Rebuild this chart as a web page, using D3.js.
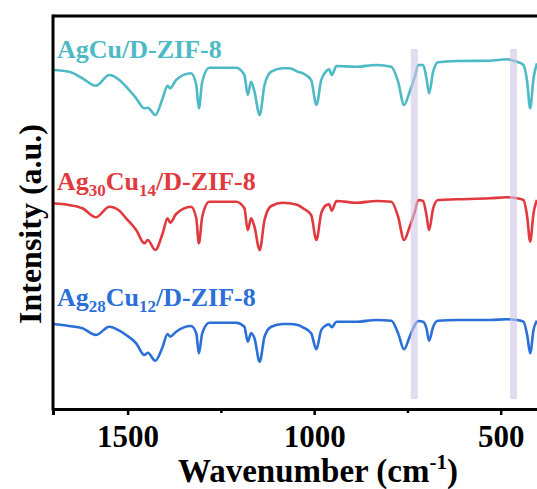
<!DOCTYPE html>
<html>
<head>
    <title>FTIR spectra</title>
    <script src="https://cdnjs.cloudflare.com/ajax/libs/d3/7.8.5/d3.min.js"></script>
    <style>
        body { margin: 0; background: #fff; }
        text { font-family: "Liberation Serif", "Times New Roman", serif; font-weight: bold; }
    </style>
</head>
<body>
    <div id="vis"></div>

    <script>
        // wavenumbers (cm-1), shared by all three traces
        var wavenumbers = [1700, 1657, 1621, 1585, 1549, 1522, 1504, 1477, 1455, 1446, 1426, 1406, 1393, 1386, 1370,
            1330, 1316, 1309, 1300, 1281, 1209, 1187, 1178, 1169, 1160, 1146, 1133, 1115, 1084, 1066, 1044, 1030,
            1008, 994, 981, 967, 960, 953, 940, 887, 833, 793, 775, 759, 744, 730, 721, 708, 699, 692, 681, 668,
            618, 529, 484, 457, 439, 429, 421, 412, 403];

        // intensities (a.u., already stacked)
        var agcu = [339, 337.3, 330.7, 323.3, 334, 329, 322.3, 310.7, 300.7, 301.3, 294, 310.7, 323.3, 320.7, 329,
            335.7, 324, 300.7, 327.3, 341.3, 341.3, 334, 314, 327.3, 317.3, 294, 324, 337.3, 340.7, 340.7, 337.3, 335.7,
            329, 304, 329, 338, 339.7, 334, 343, 342.3, 344, 342.3, 327.3, 304, 317.3, 332.3, 344, 344, 330.7, 315.7, 337.3, 346.7,
            348, 348.3, 349.7, 347.3, 344, 327.3, 300.7, 330.7, 345.7];

        var ag30cu14 = [205.7, 204, 200.7, 191.7, 202.3, 198.3, 190.7, 179, 165.7, 169, 159, 175.7, 190.7, 186.3, 195,
            202.3, 190.7, 165.7, 192.3, 207.3, 207.3, 200.7, 179, 190.7, 182.3, 159, 189, 203, 206.3, 205.7, 204, 200.7,
            194, 169, 195.7, 204, 204.7, 198.3, 208, 206.3, 208, 207.3, 192.3, 169, 182.3, 197.3, 209, 208, 194, 179, 200.7, 209,
            209.7, 210.7, 211.7, 210.7, 209, 192.3, 167.3, 195.7, 209];

        var ag28cu12 = [85, 83, 80.7, 74, 82.3, 78.3, 74, 65.7, 54, 56.3, 48.3, 62.3, 75, 72.3, 77.3,
            83, 75.7, 55.7, 75.7, 86.3, 86.3, 82.3, 67.3, 75.7, 70.7, 47.3, 72.3, 82.3, 85, 85, 84, 81.7,
            75.7, 59.7, 79, 84, 84.7, 81.7, 87.3, 87.3, 89, 88.3, 75.7, 59.7, 72.3, 84, 88, 87.3, 80.7, 68.3, 82.3, 88.3,
            89, 89, 89.7, 89, 87.3, 74, 55.7, 79, 88.3];

        var seriesNames = ["AgCu/D-ZIF-8", "Ag30Cu14/D-ZIF-8", "Ag28Cu12/D-ZIF-8"];
        var seriesColors = ["#4dbac6", "#e03a3e", "#2b6fd8"];
        var labelLevels = [351, 219, 103];

        // highlighted bands (cm-1)
        var bands = [[741, 722], [475, 456]];

        var xTicks = [1500, 1000, 500];
        var xMinorTicks = [1250, 750];

        var W = 537, H = 489;
        var mLeft = 53, mTop = 16, mRight = 538, mBottom = 409;

        var svg = d3.select("#vis").append("svg")
            .attr("width", W)
            .attr("height", H);

        var x = d3.scaleLinear().domain([1700, 400]).range([mLeft, mRight]);
        var y = d3.scaleLinear().domain([0, 393]).range([mBottom, mTop]);

        var line = d3.line()
            .x(function(d) { return x(d[0]); })
            .y(function(d) { return y(d[1]); })
            .curve(d3.curveMonotoneX);

        [agcu, ag30cu14, ag28cu12].forEach(function(vals, i) {
            svg.append("path")
                .datum(d3.zip(wavenumbers, vals))
                .attr("d", line)
                .attr("fill", "none")
                .attr("stroke", seriesColors[i])
                .attr("stroke-width", 2.6)
                .attr("stroke-linejoin", "round");
        });

        // bands sit on top, half transparent
        svg.selectAll(".band").data(bands).enter().append("rect")
            .attr("class", "band")
            .attr("x", function(d) { return x(d[0]); })
            .attr("width", function(d) { return x(d[1]) - x(d[0]); })
            .attr("y", y(360))
            .attr("height", y(10) - y(360))
            .attr("fill", "#cec5e6")
            .attr("opacity", 0.6);

        // labels with subscripts
        var labelParts = [
            [["AgCu/D-ZIF-8", false]],
            [["Ag", false], ["30", true], ["Cu", false], ["14", true], ["/D-ZIF-8", false]],
            [["Ag", false], ["28", true], ["Cu", false], ["12", true], ["/D-ZIF-8", false]]
        ];
        labelParts.forEach(function(parts, i) {
            var t = svg.append("text")
                .attr("x", 57)
                .attr("y", y(labelLevels[i]))
                .attr("fill", seriesColors[i])
                .style("font-size", "26px");
            parts.forEach(function(p, j) {
                t.append("tspan")
                    .text(p[0])
                    .attr("dy", p[1] ? 6 : (j > 0 ? -6 : 0))
                    .style("font-size", p[1] ? "17px" : "26px");
            });
        });

        // frame: left, top and bottom
        var xAxis = d3.axisBottom(x).tickValues(xTicks).tickSize(6).tickFormat(d3.format("d"));
        var gx = svg.append("g").attr("transform", "translate(0," + mBottom + ")").call(xAxis);
        gx.select(".domain").attr("stroke-width", 3);
        gx.selectAll(".tick line").attr("stroke-width", 2.5);
        gx.selectAll(".tick text").attr("dy", 0).attr("y", 38).style("font-size", "31px")
            .style("font-family", "Liberation Serif, serif").style("font-weight", "bold");

        var gm = svg.append("g").attr("transform", "translate(0," + mBottom + ")")
            .call(d3.axisBottom(x).tickValues(xMinorTicks).tickSize(4).tickFormat(""));
        gm.select(".domain").remove();
        gm.selectAll(".tick line").attr("stroke-width", 2.5);

        svg.append("line").attr("x1", mLeft).attr("x2", mLeft).attr("y1", mTop - 1.5).attr("y2", mBottom + 1.5)
            .attr("stroke", "#000").attr("stroke-width", 3);
        svg.append("line").attr("x1", mLeft).attr("x2", mRight).attr("y1", mTop).attr("y2", mTop)
            .attr("stroke", "#000").attr("stroke-width", 3);

        // axis titles
        var xt = svg.append("text")
            .attr("x", 318).attr("y", 482)
            .attr("text-anchor", "middle")
            .style("font-size", "33px");
        xt.append("tspan").text("Wavenumber (cm");
        xt.append("tspan").text("-1").attr("dy", -13).style("font-size", "21px");
        xt.append("tspan").text(")").attr("dy", 13);

        svg.append("text")
            .attr("transform", "translate(41,224) rotate(-90)")
            .attr("text-anchor", "middle")
            .style("font-size", "32px")
            .text("Intensity (a.u.)");
    </script>
</body>
</html>
